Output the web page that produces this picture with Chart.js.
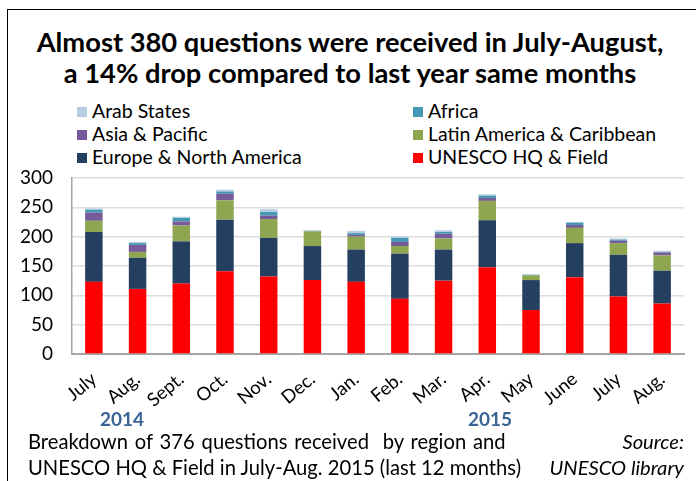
<!DOCTYPE html>
<html>
<head>
<meta charset="utf-8">
<script src="https://cdn.jsdelivr.net/npm/chart.js@4.4.1/dist/chart.umd.min.js"></script>
<style>
  html, body { margin: 0; padding: 0; background: #fff; }
  body { width: 696px; height: 481px; position: relative; overflow: hidden; font-family: Lato, "Open Sans", sans-serif; color: #000; }
  #frame { position: absolute; left: 7px; top: 9px; width: 700px; height: 480px; border-left: 1.5px solid #000; border-top: 1.5px solid #000; }
  #title { position: absolute; left: 0; top: 26px; width: 700px; text-align: center; font-weight: bold; font-size: 27.3px; line-height: 31px; }
  #legend { position: absolute; left: 77px; top: 99px; width: 600px; }
  .li { position: absolute; white-space: nowrap; font-size: 19.5px; line-height: 23px; }
  .sw { display: inline-block; width: 10px; height: 10px; margin-right: 5px; vertical-align: 1px; }
  #c { position: absolute; left: 0; top: 0; }
  .yr { position: absolute; top: 407px; font-weight: bold; font-size: 19px; color: #3A6496; }
  .note { position: absolute; font-size: 20.2px; line-height: 24px; white-space: nowrap; }
</style>
</head>
<body>
<div id="frame"></div>
<div id="title">Almost 380 questions were received in July-August,<br>a 14% drop compared to last year same months</div>
<div id="legend"></div>
<canvas id="c" width="696" height="481"></canvas>
<div class="yr" style="left:100px">2014</div>
<div class="yr" style="left:468px">2015</div>
<div class="note" style="left:28px; top:429px; word-spacing:1.7px">Breakdown of 376 questions received&nbsp; by region and</div>
<div class="note" style="left:28px; top:455px">UNESCO HQ &amp; Field in July-Aug. 2015 (last 12 months)</div>
<div class="note" style="right:12px; top:429px; font-style:italic">Source:</div>
<div class="note" style="right:12px; top:455px; font-style:italic">UNESCO library</div>
<script>
const categories = ["July", "Aug.", "Sept.", "Oct.", "Nov.", "Dec.", "Jan.", "Feb.", "Mar.", "Apr.", "May", "June", "July", "Aug."];
const unescoHQ   = [123, 111, 120, 141, 132, 126, 123,  94, 125, 148,  75, 131,  98,  86];
const europeNA   = [ 85,  53,  72,  88,  66,  58,  55,  77,  53,  80,  51,  58,  71,  56];
const latinAm    = [ 19,  10,  27,  33,  32,  25,  22,  13,  19,  33,   8,  26,  20,  26];
const asiaPac    = [ 14,  12,   7,  11,   6,   0,   3,   7,   8,   5,   0,   5,   4,   5];
const africa     = [  5,   3,   6,   4,   6,   1,   3,   7,   3,   4,   1,   4,   2,   1];
const arabStates = [  2,   2,   2,   3,   5,   1,   4,   2,   3,   2,   1,   1,   2,   2];
const yTicks = [0, 50, 100, 150, 200, 250, 300];

const series = [
  { label: "UNESCO HQ & Field", data: unescoHQ, color: "#FF0000" },
  { label: "Europe & North America", data: europeNA, color: "#243F60" },
  { label: "Latin America & Caribbean", data: latinAm, color: "#8DA64F" },
  { label: "Asia & Pacific", data: asiaPac, color: "#775A99" },
  { label: "Africa", data: africa, color: "#4398B2" },
  { label: "Arab States", data: arabStates, color: "#B9CDE5" }
];

// HTML legend, two columns, reverse order
const legendOrder = [5, 4, 3, 2, 1, 0];
const lg = document.getElementById('legend');
legendOrder.forEach((si, k) => {
  const col = k % 2, row = Math.floor(k / 2);
  const d = document.createElement('div');
  d.className = 'li';
  d.style.left = (col * 336) + 'px';
  d.style.top = (row * 23) + 'px';
  d.innerHTML = '<span class="sw" style="background:' + series[si].color + '"></span>' + series[si].label.replace('&', '&amp;');
  lg.appendChild(d);
});

new Chart(document.getElementById('c'), {
  type: 'bar',
  data: {
    labels: categories,
    datasets: series.map(s => ({
      label: s.label, data: s.data, backgroundColor: s.color,
      borderWidth: 0, categoryPercentage: 1, barPercentage: 0.4
    }))
  },
  options: {
    responsive: false,
    animation: false,
    events: [],
    layout: { padding: { left: 8, right: 12, top: 178, bottom: 67 } },
    plugins: { legend: { display: false }, title: { display: false }, tooltip: { enabled: false } },
    scales: {
      x: {
        stacked: true,
        grid: { display: false },
        border: { display: true, color: '#A6A6A6', width: 2 },
        ticks: { color: '#000', font: { family: 'Lato', size: 18.5 }, minRotation: 40, maxRotation: 40, padding: 6 },
        afterFit: s => { s.height = 60; }
      },
      y: {
        stacked: true,
        min: 0, max: 300,
        afterBuildTicks: s => { s.ticks = yTicks.map(v => ({ value: v })); },
        grid: { color: '#DCDCDC', lineWidth: 1.5, drawTicks: false },
        border: { display: true, color: '#A6A6A6', width: 1.5 },
        ticks: { color: '#000', font: { family: 'Lato', size: 19 }, padding: 19 },
        afterFit: s => { s.width = 64; }
      }
    }
  }
});
</script>
</body>
</html>
